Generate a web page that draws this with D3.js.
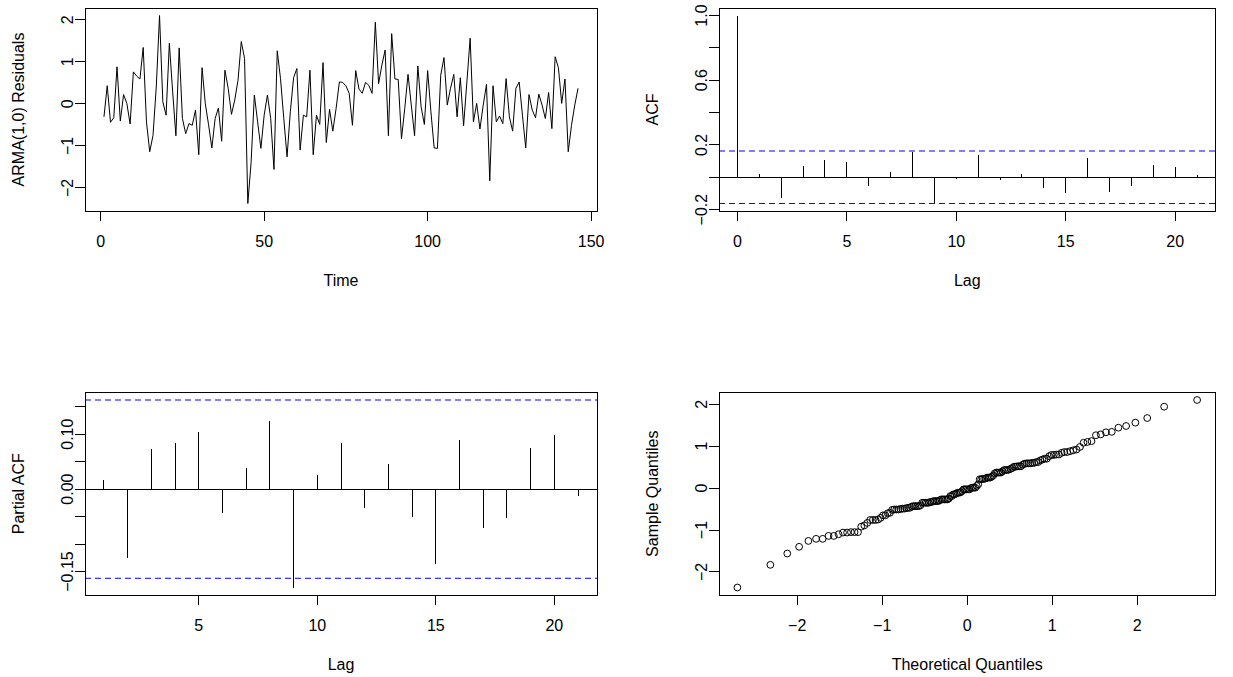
<!DOCTYPE html>
<html>
<head>
<meta charset="utf-8">
<script src="https://cdn.jsdelivr.net/npm/d3@7"></script>
<style>
  body { margin: 0; background: #fff; }
  text { font-family: "Liberation Sans", Arial, sans-serif; font-size: 16px; fill: #000; }
</style>
</head>
<body>
<div id="chart"></div>
<script>
// ARMA(1,0) residuals (t = 1..146)
const residuals = [
  -0.31, 0.43, -0.44, -0.33, 0.88, -0.41, 0.22, 0.01, -0.48, 0.76,
  0.66, 0.59, 1.34, -0.43, -1.14, -0.75, 0.40, 2.10, 0.05, -0.27,
  1.44, 0.30, -0.76, 1.33, -0.35, -0.71, -0.47, -0.51, -0.15, -1.21,
  0.86, 0.00, -0.50, -1.05, -0.35, -0.10, -0.89, 0.80, 0.37, -0.25,
  0.09, 0.56, 1.48, 1.08, -2.37, -1.40, 0.21, -0.43, -1.06, -0.27,
  0.21, -0.35, -1.56, 1.26, 0.60, -0.35, -1.26, -0.19, 0.62, 0.84,
  -1.10, -0.27, -0.31, 0.80, -1.21, -0.27, -0.49, 0.98, -0.92, -0.13,
  -0.65, -0.11, 0.52, 0.51, 0.43, 0.25, -0.51, 0.79, 0.35, 0.25,
  0.51, 0.44, 0.25, 1.94, 0.48, 0.92, 1.28, -0.76, 1.67, 0.59,
  0.58, -0.83, -0.11, 0.70, -0.03, -0.76, 0.90, -0.07, -0.49, 0.79,
  -0.19, -1.05, -1.06, 0.68, 1.10, -0.03, 0.37, 0.70, -0.31, 0.62,
  -0.52, 0.52, 1.56, -0.43, 0.01, -0.60, -0.03, 0.46, -1.83, 0.43,
  -0.43, -0.29, -0.47, 0.60, -0.31, -0.65, 0.37, 0.52, -0.27, -1.05,
  0.22, -0.15, -0.33, 0.23, -0.03, -0.35, 0.27, -0.59, 1.12, 0.86,
  0.01, 0.59, -1.14, -0.51, -0.03, 0.37
];

const acfLags = d3.range(0, 22);
const acfValues = [
  1.000, 0.021, -0.126, 0.072, 0.107, 0.093, -0.054, 0.031, 0.159, -0.161,
  -0.012, 0.136, -0.014, 0.017, -0.066, -0.095, 0.118, -0.089, -0.054, 0.076,
  0.062, 0.014
];

const pacfLags = d3.range(1, 22);
const pacfValues = [
  0.017, -0.125, 0.073, 0.084, 0.104, -0.043, 0.039, 0.124, -0.179, 0.026,
  0.084, -0.035, 0.046, -0.050, -0.136, 0.090, -0.071, -0.053, 0.075, 0.099,
  -0.012
];

const tsXTicks = [0, 50, 100, 150];
const tsYTicks = [-2, -1, 0, 1, 2];
const acfXTicks = [0, 5, 10, 15, 20];
const acfYTicks = [-0.2, 0, 0.2, 0.4, 0.6, 0.8, 1.0];
const acfYLabelled = [-0.2, 0.2, 0.6, 1.0];
const pacfXTicks = [5, 10, 15, 20];
const pacfYTicks = [-0.15, -0.10, -0.05, 0, 0.05, 0.10, 0.15];
const pacfYLabelled = [-0.15, 0, 0.10];
const qqTicks = [-2, -1, 0, 1, 2];

const nObs = residuals.length;
const clim = 1.96 / Math.sqrt(nObs);

// R style axis range: data range widened by 4% on each side
function rRange(vals) {
  const [lo, hi] = d3.extent(vals);
  const pad = (hi - lo) * 0.04;
  return [lo - pad, hi + pad];
}

// inverse normal cdf (Acklam) for the theoretical quantiles
function qnorm(p) {
  const a = [-3.969683028665376e+01, 2.209460984245205e+02, -2.759285104469687e+02, 1.383577518672690e+02, -3.066479806614716e+01, 2.506628277459239e+00];
  const b = [-5.447609879822406e+01, 1.615858368580409e+02, -1.556989798598866e+02, 6.680131188771972e+01, -1.328068155288572e+01];
  const c = [-7.784894002430293e-03, -3.223964580411365e-01, -2.400758277161838e+00, -2.549732539343734e+00, 4.374664141464968e+00, 2.938163982698783e+00];
  const d = [7.784695709041462e-03, 3.224671290700398e-01, 2.445134137142996e+00, 3.754408661907416e+00];
  const pl = 0.02425;
  if (p < pl) {
    const q = Math.sqrt(-2 * Math.log(p));
    return (((((c[0]*q+c[1])*q+c[2])*q+c[3])*q+c[4])*q+c[5]) / ((((d[0]*q+d[1])*q+d[2])*q+d[3])*q+1);
  }
  if (p > 1 - pl) {
    const q = Math.sqrt(-2 * Math.log(1 - p));
    return -(((((c[0]*q+c[1])*q+c[2])*q+c[3])*q+c[4])*q+c[5]) / ((((d[0]*q+d[1])*q+d[2])*q+d[3])*q+1);
  }
  const q = p - 0.5, r = q * q;
  return (((((a[0]*r+a[1])*r+a[2])*r+a[3])*r+a[4])*r+a[5])*q / (((((b[0]*r+b[1])*r+b[2])*r+b[3])*r+b[4])*r+1);
}

const width = 1233;
const height = 677;

const svg = d3.select("#chart")
  .append("svg")
  .attr("width", width)
  .attr("height", height);

svg.append("rect").attr("width", width).attr("height", height).attr("fill", "#fff");

const tickLen = 10;

// box, axes, labels for one panel
function frame(x, y, o) {
  const g = svg.append("g");
  const [l, r] = x.range();
  const [b, t] = y.range();

  g.append("rect")
    .attr("x", l).attr("y", t)
    .attr("width", r - l).attr("height", b - t)
    .attr("fill", "none").attr("stroke", "#000")
    .attr("shape-rendering", "crispEdges");

  // x axis
  const xt = o.xTicks;
  g.append("line")
    .attr("x1", x(xt[0])).attr("x2", x(xt[xt.length - 1]))
    .attr("y1", b).attr("y2", b)
    .attr("stroke", "#000").attr("shape-rendering", "crispEdges");
  g.selectAll(null).data(xt).join("line")
    .attr("x1", d => x(d)).attr("x2", d => x(d))
    .attr("y1", b).attr("y2", b + tickLen)
    .attr("stroke", "#000").attr("shape-rendering", "crispEdges");
  g.selectAll(null).data(xt).join("text")
    .attr("x", d => x(d)).attr("y", b + 30)
    .attr("text-anchor", "middle").attr("dominant-baseline", "central")
    .text(o.xFormat);

  // y axis
  const yt = o.yTicks;
  g.append("line")
    .attr("x1", l).attr("x2", l)
    .attr("y1", y(yt[0])).attr("y2", y(yt[yt.length - 1]))
    .attr("stroke", "#000").attr("shape-rendering", "crispEdges");
  g.selectAll(null).data(yt).join("line")
    .attr("x1", l - tickLen).attr("x2", l)
    .attr("y1", d => y(d)).attr("y2", d => y(d))
    .attr("stroke", "#000").attr("shape-rendering", "crispEdges");
  g.selectAll(null).data(o.yLabelled || yt).join("text")
    .attr("transform", d => `translate(${l - 17.5},${y(d)}) rotate(-90)`)
    .attr("text-anchor", "middle").attr("dominant-baseline", "central")
    .text(o.yFormat);

  // titles
  g.append("text")
    .attr("x", (l + r) / 2).attr("y", b + 69)
    .attr("text-anchor", "middle").attr("dominant-baseline", "central")
    .text(o.xTitle);
  g.append("text")
    .attr("transform", `translate(${l - 67},${(t + b) / 2}) rotate(-90)`)
    .attr("text-anchor", "middle").attr("dominant-baseline", "central")
    .text(o.yTitle);
  return g;
}

function dashed(g, x, y, v) {
  g.append("line")
    .attr("x1", x.range()[0]).attr("x2", x.range()[1])
    .attr("y1", y(v)).attr("y2", y(v))
    .attr("stroke", "#0000ff").attr("stroke-dasharray", "6,4");
}

// ---- Panel 1: residual time plot
const times = d3.range(1, nObs + 1);
const x1 = d3.scaleLinear().domain(rRange(times)).range([85, 597]);
const y1 = d3.scaleLinear().domain(rRange(residuals)).range([211, 8]);

svg.append("path")
  .datum(residuals)
  .attr("fill", "none").attr("stroke", "#000").attr("stroke-width", 1)
  .attr("d", d3.line().x((d, i) => x1(times[i])).y(d => y1(d)));

frame(x1, y1, {
  xTicks: tsXTicks, yTicks: tsYTicks,
  xFormat: d3.format("d"), yFormat: d3.format("d"),
  xTitle: "Time", yTitle: "ARMA(1,0) Residuals"
});

// ---- Panel 2: ACF
const x2 = d3.scaleLinear().domain(rRange(acfLags)).range([719, 1215.5]);
const y2 = d3.scaleLinear().domain(rRange(acfValues.concat([-clim, clim]))).range([211, 8]);
const g2 = svg.append("g");
g2.append("line")
  .attr("x1", x2.range()[0]).attr("x2", x2.range()[1])
  .attr("y1", y2(0)).attr("y2", y2(0))
  .attr("stroke", "#000").attr("shape-rendering", "crispEdges");
g2.selectAll(null).data(acfValues).join("line")
  .attr("x1", (d, i) => x2(acfLags[i])).attr("x2", (d, i) => x2(acfLags[i]))
  .attr("y1", y2(0)).attr("y2", d => y2(d))
  .attr("stroke", "#000").attr("shape-rendering", "crispEdges");
dashed(g2, x2, y2, clim);
dashed(g2, x2, y2, -clim);
frame(x2, y2, {
  xTicks: acfXTicks, yTicks: acfYTicks, yLabelled: acfYLabelled,
  xFormat: d3.format("d"), yFormat: d3.format(".1f"),
  xTitle: "Lag", yTitle: "ACF"
});

// ---- Panel 3: PACF
const x3 = d3.scaleLinear().domain(rRange(pacfLags)).range([85, 597]);
const y3 = d3.scaleLinear().domain(rRange(pacfValues.concat([-clim, clim]))).range([595, 392.5]);
const g3 = svg.append("g");
g3.append("line")
  .attr("x1", x3.range()[0]).attr("x2", x3.range()[1])
  .attr("y1", y3(0)).attr("y2", y3(0))
  .attr("stroke", "#000").attr("shape-rendering", "crispEdges");
g3.selectAll(null).data(pacfValues).join("line")
  .attr("x1", (d, i) => x3(pacfLags[i])).attr("x2", (d, i) => x3(pacfLags[i]))
  .attr("y1", y3(0)).attr("y2", d => y3(d))
  .attr("stroke", "#000").attr("shape-rendering", "crispEdges");
dashed(g3, x3, y3, clim);
dashed(g3, x3, y3, -clim);
frame(x3, y3, {
  xTicks: pacfXTicks, yTicks: pacfYTicks, yLabelled: pacfYLabelled,
  xFormat: d3.format("d"), yFormat: d3.format(".2f"),
  xTitle: "Lag", yTitle: "Partial ACF"
});

// ---- Panel 4: normal Q-Q plot
const sampleQ = residuals.slice().sort(d3.ascending);
const theoQ = sampleQ.map((d, i) => qnorm((i + 1 - 0.5) / nObs));
const x4 = d3.scaleLinear().domain(rRange(theoQ)).range([719, 1215.5]);
const y4 = d3.scaleLinear().domain(rRange(sampleQ)).range([595, 392.5]);
svg.append("g")
  .selectAll("circle")
  .data(sampleQ)
  .join("circle")
  .attr("cx", (d, i) => x4(theoQ[i]))
  .attr("cy", d => y4(d))
  .attr("r", 3.4)
  .attr("fill", "none").attr("stroke", "#000").attr("stroke-width", 1);
frame(x4, y4, {
  xTicks: qqTicks, yTicks: qqTicks,
  xFormat: d3.format("d"), yFormat: d3.format("d"),
  xTitle: "Theoretical Quantiles", yTitle: "Sample Quantiles"
});
</script>
</body>
</html>
